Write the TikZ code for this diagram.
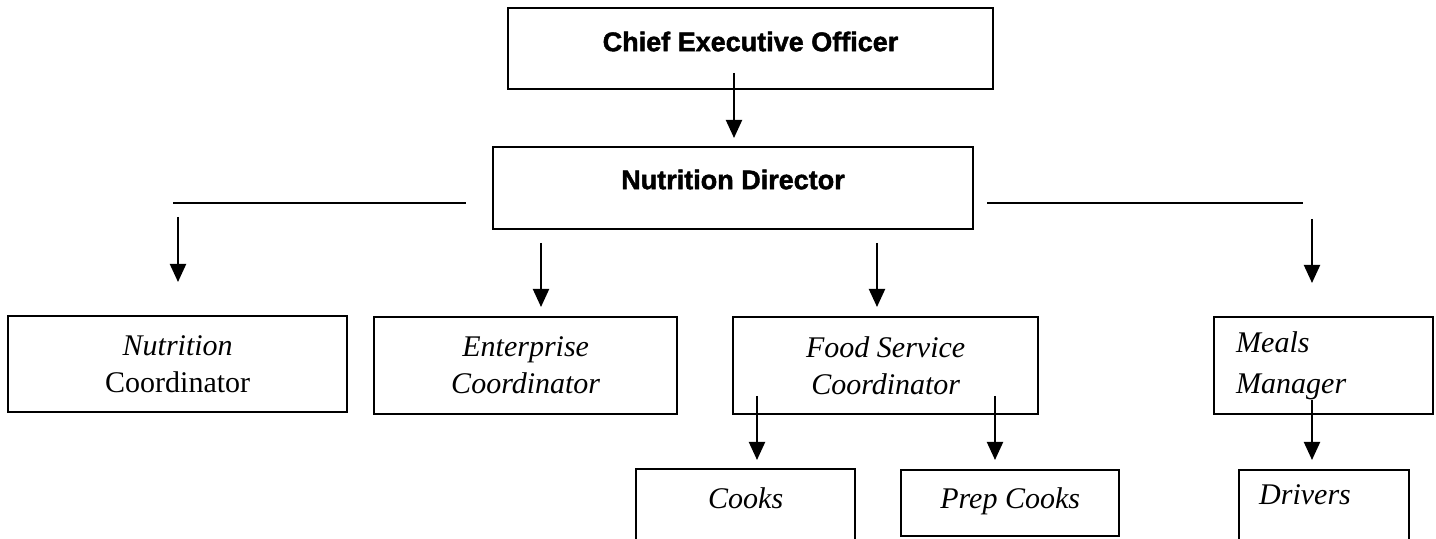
\documentclass[tikz,border=0pt]{standalone}
\usepackage{fontspec}
\setmainfont{Liberation Serif}
\newfontfamily\headfont[BoldFeatures={FakeBold=1.6}]{Liberation Sans}
\usetikzlibrary{arrows.meta}
\begin{document}
\begin{tikzpicture}[x=0.5pt,y=-0.5pt,
  box/.style={draw, line width=1.2pt, inner sep=0pt, font=\fontsize{15}{18.5}\selectfont, align=center},
  head/.style={draw, line width=1.2pt, inner sep=0pt, font=\headfont\bfseries\fontsize{13.5}{16}\selectfont},
  arr/.style={line width=1pt, -{Triangle[width=8pt,length=9pt]}},
  hline/.style={line width=0.7pt}]
\useasboundingbox (0,0) rectangle (1436,539);
\clip (0,0) rectangle (1436,539);

% top levels
\node[head, minimum width=242.5pt, text height=21.5pt, text depth=19pt, anchor=north] (ceo) at (750.5,7) {Chief Executive Officer};
\node[head, minimum width=240pt, text height=21pt, text depth=20pt, anchor=north] (nd) at (733,146) {Nutrition Director};

% second level
\node[box, minimum width=169.5pt, minimum height=48pt, anchor=north west] (nc) at (7,315) {\textit{Nutrition}\\Coordinator};
\node[box, minimum width=151.5pt, minimum height=48.5pt, anchor=north west, font=\itshape\fontsize{15}{18.5}\selectfont] (ec) at (373,316) {Enterprise\\Coordinator};
\node[box, minimum width=152.5pt, minimum height=48.5pt, anchor=north west, font=\itshape\fontsize{15}{18.5}\selectfont] (fs) at (732,316) {Food Service\\Coordinator};
\node[box, inner xsep=11pt, text width=87.5pt, align=left, minimum height=48.5pt, anchor=north west, font=\itshape\fontsize{15}{20.5}\selectfont] (mm) at (1213,316) {Meals\\Manager};

% third level
\node[box, minimum width=109.5pt, text height=19.5pt, text depth=25pt, anchor=north west, font=\itshape\fontsize{15}{18.5}\selectfont] (ck) at (635,468) {Cooks};
\node[box, minimum width=109pt, text height=19pt, text depth=14pt, anchor=north west, font=\itshape\fontsize{15}{18.5}\selectfont] (pc) at (900,469) {Prep Cooks};
\node[box, inner xsep=10pt, text width=65pt, align=left, text height=17pt, text depth=20pt, anchor=north west, font=\itshape\fontsize{15}{18.5}\selectfont] (dr) at (1238,469) {Drivers};

% connector end points
\coordinate (a0s) at (734,73);   \coordinate (a0e) at (734,138);
\coordinate (hl1) at (173,203);  \coordinate (hl2) at (466,203);
\coordinate (hr1) at (987,203);  \coordinate (hr2) at (1303,203);
\coordinate (a1s) at (178,217);  \coordinate (a1e) at (178,282);
\coordinate (a2s) at (541,243);  \coordinate (a2e) at (541,307);
\coordinate (a3s) at (877,243);  \coordinate (a3e) at (877,307);
\coordinate (a4s) at (1312,219); \coordinate (a4e) at (1312,283);
\coordinate (a5s) at (757,396);  \coordinate (a5e) at (757,460);
\coordinate (a6s) at (995,396);  \coordinate (a6e) at (995,460);
\coordinate (a7s) at (1312,400); \coordinate (a7e) at (1312,460);

\draw[arr] (a0s) -- (a0e);
\draw[hline] (hl1) -- (hl2);
\draw[hline] (hr1) -- (hr2);
\draw[arr] (a1s) -- (a1e);
\draw[arr] (a2s) -- (a2e);
\draw[arr] (a3s) -- (a3e);
\draw[arr] (a4s) -- (a4e);
\draw[arr] (a5s) -- (a5e);
\draw[arr] (a6s) -- (a6e);
\draw[arr] (a7s) -- (a7e);
\end{tikzpicture}
\end{document}
